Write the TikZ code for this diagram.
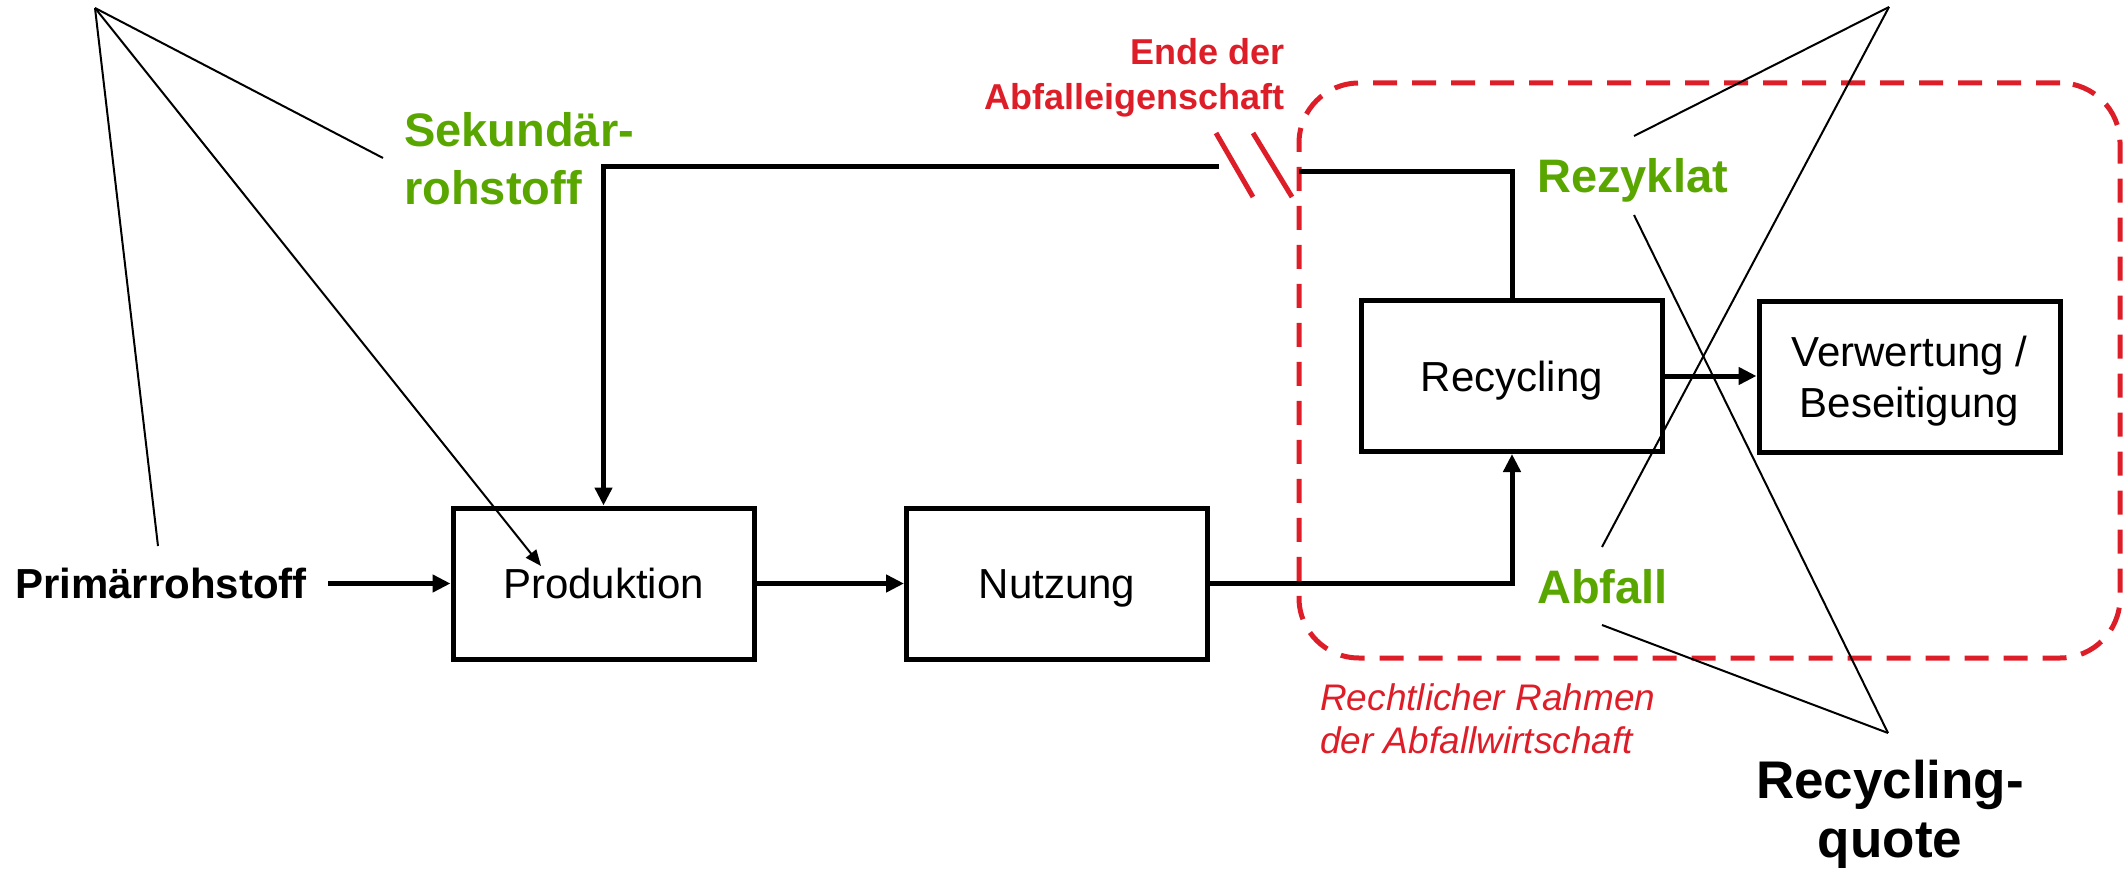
\documentclass[tikz,border=0pt]{standalone}
\usepackage{fontspec}
\setmainfont{Liberation Sans}
\usetikzlibrary{arrows.meta}
\definecolor{rred}{RGB}{221,30,40}
\definecolor{ggreen}{RGB}{90,166,0}
\begin{document}
\begin{tikzpicture}[x=1pt,y=-1pt,
  box/.style={draw, line width=5pt, minimum width=301pt, minimum height=151pt, inner sep=0pt, align=center, text depth=0pt, font=\fontsize{42}{51}\selectfont},
  onebox/.style={box, text height=30pt},
  flow/.style={line width=5pt, -{Triangle[length=18pt,width=17pt]}},
  plainline/.style={line width=5pt},
  callout/.style={line width=2pt},
  calloutarrow/.style={line width=2pt, -{Triangle[length=16pt,width=13pt]}},
  greenlbl/.style={text=ggreen, font=\bfseries\fontsize{47}{56}\selectfont, inner sep=0pt},
  redlbl/.style={text=rred, font=\bfseries\fontsize{36}{45}\selectfont, inner sep=0pt},
  reditl/.style={text=rred, font=\itshape\fontsize{37}{43}\selectfont, inner sep=0pt},
  blacklbl/.style={font=\bfseries\fontsize{53}{59}\selectfont, inner sep=0pt},
  frame/.style={draw=rred, line width=5pt, dash pattern=on 24pt off 15pt, rounded corners=60pt, minimum width=821pt, minimum height=575pt, inner sep=0pt},
  slash/.style={draw=rred, line width=5pt}
]
\useasboundingbox (0,0) rectangle (2128,869);

% legal frame
\node[frame] (frame) at (1709.5,370.5) {};

% boxes
\node[onebox] (prod) at (603.5,583.5) {Produktion};
\node[onebox] (nutz) at (1057,583.5) {Nutzung};
\node[onebox] (rec) at (1512,376) {Recycling};
\node[box] (verw) at (1909.5,377) {Verwertung /\\Beseitigung};

% labels
\node[inner sep=0pt, anchor=base east, font=\bfseries\fontsize{42}{48}\selectfont] (prim) at (307,598) {Primärrohstoff};
\node[greenlbl, anchor=base west] (sek1) at (404,147) {Sekundär-};
\node[greenlbl, anchor=base west] (sek2) at (404,205) {rohstoff};
\node[greenlbl, anchor=base west] (rez) at (1537,193) {Rezyklat};
\node[greenlbl, anchor=base west] (abf) at (1537,603) {Abfall};
\node[redlbl, anchor=base east] (ende1) at (1285,65) {Ende der};
\node[redlbl, anchor=base east] (ende2) at (1285,110) {Abfalleigenschaft};
\node[reditl, anchor=base west] (rr1) at (1320,710) {Rechtlicher Rahmen};
\node[reditl, anchor=base west] (rr2) at (1320,753) {der Abfallwirtschaft};
\node[blacklbl, anchor=base] (rq1) at (1890,798) {Recycling-};
\node[blacklbl, anchor=base] (rq2) at (1890,857) {quote};

% flows
\coordinate (primout) at (328,583.5);
\draw[flow] (primout) -- (prod.west);
\draw[flow] (prod.east) -- (nutz.west);
\draw[flow] (nutz.east) -- (nutz.east -| rec.south) -- (rec.south);
\draw[flow] (rec.east) -- (rec.east -| verw.west);

% secondary raw material loop with break
\coordinate (brkR) at (1299,172);
\coordinate (brkL) at (1219,167);
\draw[plainline] (rec.north) |- (brkR);
\draw[flow] (brkL) -| (prod.north);
\draw[slash] (1216,133) -- (1253,197);
\draw[slash] (1253,133) -- (1292,197);

% callout lines top left
\coordinate (apexL) at (95,8);
\coordinate (cSek) at (383,158);
\coordinate (cPrim) at (158,546);
\coordinate (cProd) at (541,566);
\draw[callout] (apexL) -- (cSek);
\draw[callout] (apexL) -- (cPrim);
\draw[calloutarrow] (apexL) -- (cProd);

% callout lines right (top)
\coordinate (apexT) at (1889,7);
\coordinate (cRez) at (1634,136);
\coordinate (cAbf) at (1602,547);
\draw[callout] (apexT) -- (cRez);
\draw[callout] (apexT) -- (cAbf);

% callout lines right (bottom)
\coordinate (apexB) at (1888,733);
\coordinate (cAbf2) at (1602,625);
\coordinate (cRez2) at (1634,215);
\draw[callout] (apexB) -- (cAbf2);
\draw[callout] (apexB) -- (cRez2);
\end{tikzpicture}
\end{document}
